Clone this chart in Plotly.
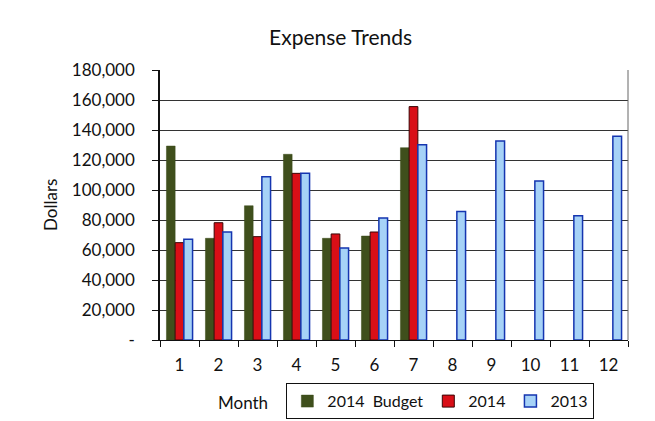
import plotly.graph_objects as go

months = ["1", "2", "3", "4", "5", "6", "7", "8", "9", "10", "11", "12"]
budget_2014 = [129300, 67800, 89500, 123800, 67800, 69300, 128200, None, None, None, None, None]
actual_2014 = [64900, 78200, 68900, 111100, 70700, 72000, 155600, None, None, None, None, None]
actual_2013 = [67100, 72000, 108900, 111100, 61300, 81300, 130200, 85600, 132700, 106000, 82900, 135800]

ytick_vals = [0, 20000, 40000, 60000, 80000, 100000, 120000, 140000, 160000, 180000]
ytick_text = ["-", "20,000", "40,000", "60,000", "80,000", "100,000", "120,000", "140,000", "160,000", "180,000"]

FONT = "Lato, sans-serif"
FS = 17

fig = go.Figure()
fig.add_trace(go.Bar(x=months, y=budget_2014, name="2014  Budget",
                     marker=dict(color="#3f4f1c", line=dict(color="#3a4a18", width=0.5))))
fig.add_trace(go.Bar(x=months, y=actual_2014, name="2014",
                     marker=dict(color="#d90f17", line=dict(color="#3a0505", width=1))))
fig.add_trace(go.Bar(x=months, y=actual_2013, name="2013",
                     marker=dict(color="#a6d2f7", line=dict(color="#1535b0", width=1.5))))

fig.update_layout(
    width=655, height=421,
    margin=dict(l=160, r=27, t=70, b=81, autoexpand=False),
    paper_bgcolor="white", plot_bgcolor="white",
    font=dict(family=FONT, size=FS, color="#111"),
    title=dict(text="Expense Trends", x=0.52, xanchor="center", y=0.91, yanchor="middle",
               font=dict(family=FONT, size=21, color="#111")),
    barmode="group", bargap=0.33, bargroupgap=0,
    showlegend=True,
    legend=dict(orientation="h", x=0.27, xanchor="left", y=-0.16, yanchor="top",
                bordercolor="#111", borderwidth=1, bgcolor="white",
                font=dict(family=FONT, size=16, color="#111"),
                itemwidth=30, tracegroupgap=0),
    xaxis=dict(type="category", showgrid=False, showline=True, linecolor="#111", linewidth=1,
               ticks="outside", tickson="boundaries", ticklen=6, tickcolor="#111",
               ticklabelstandoff=10,
               tickfont=dict(family=FONT, size=FS, color="#111")),
    yaxis=dict(range=[0, 180000], tickvals=ytick_vals, ticktext=ytick_text,
               showgrid=True, gridcolor="#333", gridwidth=1,
               showline=True, linecolor="#111", linewidth=1.5,
               ticks="outside", ticklen=6, tickcolor="#111",
               ticklabelstandoff=14,
               tickfont=dict(family=FONT, size=FS, color="#111")),
    annotations=[dict(text="Month", x=0.177, y=-0.23, xref="paper", yref="paper",
                      xanchor="center", yanchor="middle", showarrow=False,
                      font=dict(family=FONT, size=FS, color="#111")),
                 dict(text="Dollars", x=-0.235, y=0.5, xref="paper", yref="paper",
                      xanchor="center", yanchor="middle", showarrow=False, textangle=-90,
                      font=dict(family=FONT, size=FS, color="#111"))],
    shapes=[dict(type="line", xref="paper", yref="paper", x0=1, x1=1, y0=0, y1=1,
                 line=dict(color="#666", width=1))],
)

fig.write_html("out.html")
